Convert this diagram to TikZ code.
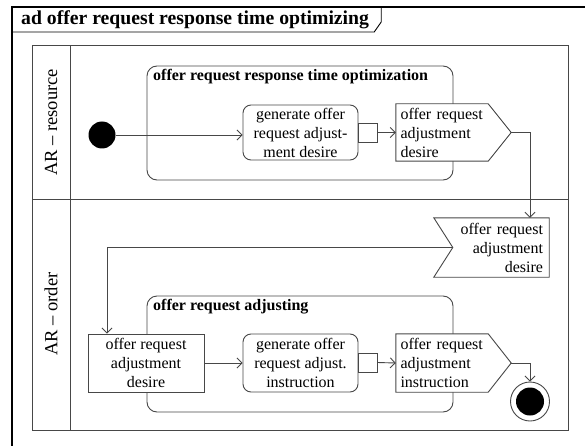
\documentclass[tikz,border=0pt]{standalone}
\usepackage{fontspec}
\setmainfont{Liberation Serif}
\usetikzlibrary{arrows.meta,calc}
\tikzset{
  ln/.style={draw=black!72, line width=0.9pt},
  flow/.style={ln, -{Straight Barb[length=5pt,width=10pt,line width=0.9pt]}},
  body/.style={font=\fontsize{16}{19}\selectfont},
  boldtitle/.style={font=\bfseries\fontsize{16}{19}\selectfont, anchor=west, inner sep=5pt},
  lanelabel/.style={font=\fontsize{18.5}{22}\selectfont, rotate=90},
  actionbox/.style={ln, body, rounded corners=8pt, align=center, minimum width=115, inner sep=0pt},
  objbox/.style={ln, body, align=center, minimum width=116, minimum height=58, inner sep=0pt},
  pinbox/.style={ln, minimum size=19, inner sep=0pt},
  sendtext/.style={body, align=left, text width=83, inner xsep=4.5, inner ysep=0pt, minimum width=92},
  accepttext/.style={body, align=right, text width=103, inner xsep=6, inner ysep=0pt, minimum width=115},
  actframe/.style={ln, rounded corners=10pt},
}
\begin{document}
\begin{tikzpicture}[x=1pt,y=-1pt]
\useasboundingbox (0,0) rectangle (585,446);
\fill[white] (0,0) rectangle (585,446);

% outer frame (clipped by picture edge)
\draw[black, line width=1.1pt] (12,446) -- (12,7) -- (585,7);
\node[font=\bfseries\fontsize{19.7}{23}\selectfont, anchor=west, inner sep=0pt] (title) at (21,20) {ad offer request response time optimizing};
\coordinate (tb) at (12,32);
\coordinate (tm) at (12,22);
\coordinate (tt) at (12,7);
\draw[black, line width=0.9pt] (tb) -- ($(tb -| title.east)+(5,0)$) -- ($(tm -| title.east)+(12,0)$) -- ($(tt -| title.east)+(12,0)$);

% swimlanes
\draw[ln, line width=1pt] (32,46) rectangle (568,430);
\draw[ln, line width=1pt] (70,46) -- (70,430);
\draw[ln, line width=1pt] (32,199) -- (568,199);
\node[lanelabel] (lane1) at (51,122.5) {AR – resource};
\node[lanelabel] (lane2) at (51,314) {AR – order};

% upper activity
\draw[actframe] (147,66) rectangle (453,180);
\node[boldtitle] (t1) at (148,77) {offer request response time optimization};
\node[circle, fill=black, minimum size=27, inner sep=0pt] (init) at (102,135) {};
\node[actionbox, minimum height=55] (gen1) at (300.5,132.5) {generate offer\\request adjust-\\ment desire};
\node[pinbox, fill=white] (pin1) at (367.5,132.5) {};
\node[sendtext, minimum height=57] (send1) at (442,132.5) {offer request\\adjustment\\desire};
\coordinate (s1tip) at ($(send1.east)+(23,0)$);
\draw[ln, fill=white] (send1.north west) -- (send1.north east) -- (s1tip) -- (send1.south east) -- (send1.south west) -- cycle;
\node[sendtext, minimum height=57] at (send1) {offer request\\adjustment\\desire};

\draw[flow] (init) -- (init -| gen1.west);
\draw[flow] (pin1.east) -- (send1.west);

% accept event
\node[accepttext, minimum height=59] (acc) at (491.5,247.5) {offer request\\adjustment\\desire};
\coordinate (notch) at ($(acc.west)+(19,0)$);
\draw[ln] (acc.north west) -- (acc.north east) -- (acc.south east) -- (acc.south west) -- (notch) -- cycle;
\coordinate (cx) at (530,0);
\coordinate (lx) at (107,0);
\draw[flow] (s1tip) -| (acc.north -| cx);

% lower activity
\draw[actframe] (147,296) rectangle (453,412);
\node[boldtitle] (t2) at (148,307) {offer request adjusting};
\node[objbox, fill=white] (obj) at (146,363) {offer request\\adjustment\\desire};
\draw[flow] (notch) -| (obj.north -| lx);
\node[actionbox, minimum height=58] (gen2) at (300.5,363) {generate offer\\request adjust.\\instruction};
\node[pinbox, fill=white] (pin2) at (367.5,362.5) {};
\node[sendtext, minimum height=58] (send2) at (442,363) {offer request\\adjustment\\instruction};
\coordinate (s2tip) at ($(send2.east)+(23,0)$);
\draw[ln, fill=white] (send2.north west) -- (send2.north east) -- (s2tip) -- (send2.south east) -- (send2.south west) -- cycle;
\node[sendtext, minimum height=58] at (send2) {offer request\\adjustment\\instruction};
\draw[flow] (obj.east) -- (gen2.west);
\draw[flow] (pin2.east) -- (send2.west);

% final node
\node[circle, ln, minimum size=39, inner sep=0pt] (fin) at (530,401.5) {};
\node[circle, fill=black, minimum size=28, inner sep=0pt] (fininner) at (fin) {};
\draw[flow] (s2tip) -| (fin.north);
\end{tikzpicture}
\end{document}
